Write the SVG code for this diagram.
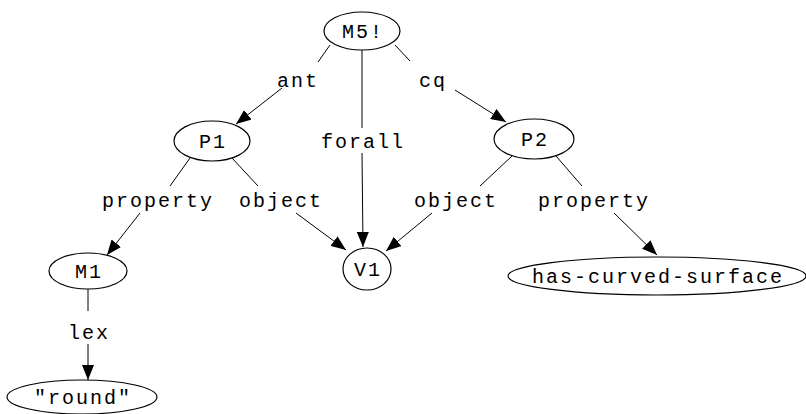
<svg xmlns="http://www.w3.org/2000/svg" width="806" height="414" viewBox="0 0 806 414">
  <style>
    .node ellipse { fill: #ffffff; stroke: #000000; stroke-width: 1.2; }
    .lbl { font-family: "Liberation Mono", "DejaVu Sans Mono", monospace; font-size: 20px; letter-spacing: 2px; fill: #000000; text-anchor: middle; }
    .edge { fill: none; stroke: #000000; stroke-width: 1; }
    .arrow { marker-end: url(#head); }
  </style>
  <defs>
    <marker id="head" markerWidth="16" markerHeight="12" refX="15" refY="6" orient="auto" markerUnits="userSpaceOnUse">
      <path d="M0,0 L15,6 L0,12 Z" fill="#000000"/>
    </marker>
  </defs>
  <rect width="806" height="414" fill="#ffffff"/>

  <!-- connectors: each edge is split around its label -->
  <g id="edges">
    <!-- M5! -> P1 : ant -->
    <path class="edge" d="M330,45 L318,62"/>
    <path class="edge arrow" d="M282,88 L236,124"/>
    <!-- M5! -> V1 : forall -->
    <path class="edge" d="M362,50 L362,128"/>
    <path class="edge arrow" d="M362,153 L363,247"/>
    <!-- M5! -> P2 : cq -->
    <path class="edge" d="M395,45 L410,61"/>
    <path class="edge arrow" d="M455,90 L506,122"/>
    <!-- P1 -> M1 : property -->
    <path class="edge" d="M190,158 L170,186"/>
    <path class="edge arrow" d="M140,213 L107,255"/>
    <!-- P1 -> V1 : object -->
    <path class="edge" d="M232,158 L258,186"/>
    <path class="edge arrow" d="M296,213 L346,250"/>
    <!-- P2 -> V1 : object -->
    <path class="edge" d="M512,156 L480,186"/>
    <path class="edge arrow" d="M432,213 L386,251"/>
    <!-- P2 -> has-curved-surface : property -->
    <path class="edge" d="M556,156 L582,186"/>
    <path class="edge arrow" d="M614,213 L657,255"/>
    <!-- M1 -> "round" : lex -->
    <path class="edge" d="M88,289 L88,311"/>
    <path class="edge arrow" d="M88,344 L88,380"/>
  </g>

  <g id="edge-labels">
    <text class="lbl" x="298" y="87">ant</text>
    <text class="lbl" x="433" y="87">cq</text>
    <text class="lbl" x="363" y="148">forall</text>
    <text class="lbl" x="158" y="207">property</text>
    <text class="lbl" x="281" y="207">object</text>
    <text class="lbl" x="456" y="207">object</text>
    <text class="lbl" x="594" y="207">property</text>
    <text class="lbl" x="89" y="339">lex</text>
  </g>

  <g id="M5" class="node">
    <ellipse cx="362" cy="31" rx="38" ry="19"/>
    <text class="lbl" x="363" y="38">M5!</text>
  </g>
  <g id="P1" class="node">
    <ellipse cx="212" cy="141" rx="38" ry="20"/>
    <text class="lbl" x="213" y="148">P1</text>
  </g>
  <g id="P2" class="node">
    <ellipse cx="534" cy="139" rx="40" ry="20"/>
    <text class="lbl" x="535" y="146">P2</text>
  </g>
  <g id="V1" class="node">
    <ellipse cx="367" cy="269" rx="24" ry="21"/>
    <text class="lbl" x="368" y="276">V1</text>
  </g>
  <g id="M1" class="node">
    <ellipse cx="88" cy="271" rx="39" ry="18"/>
    <text class="lbl" x="89" y="278">M1</text>
  </g>
  <g id="has-curved-surface" class="node">
    <ellipse cx="657" cy="276" rx="149" ry="19"/>
    <text class="lbl" x="658" y="283">has-curved-surface</text>
  </g>
  <g id="round" class="node">
    <ellipse cx="82" cy="397" rx="75" ry="17"/>
    <text class="lbl" x="83" y="404">"round"</text>
  </g>
</svg>
